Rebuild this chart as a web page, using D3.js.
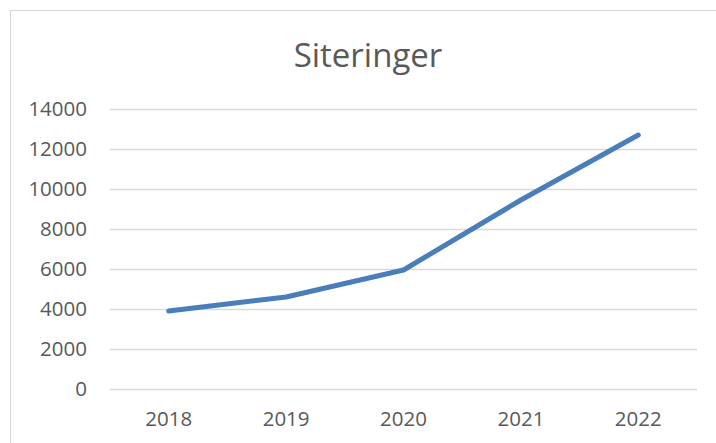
<!DOCTYPE html>
<html>
<head>
<meta charset="utf-8">
<script src="https://cdn.jsdelivr.net/npm/d3@7"></script>
<style>
  body { margin: 0; background: #fff; }
  text { font-family: "Open Sans", "Liberation Sans", Arial, sans-serif; fill: #595959; }
</style>
</head>
<body>
<div class="chart"></div>
<script>
var years = ["2018", "2019", "2020", "2021", "2022"];
var citations = [3900, 4600, 5950, 9450, 12700];
var yTicks = [0, 2000, 4000, 6000, 8000, 10000, 12000, 14000];
var chartTitle = "Siteringer";

var svgWidth = 716;
var svgHeight = 443;

var margin = { top: 109, right: 19, bottom: 54, left: 110 };
var width = svgWidth - margin.left - margin.right;
var height = svgHeight - margin.top - margin.bottom;

var svg = d3.select(".chart")
  .append("svg")
  .attr("width", svgWidth)
  .attr("height", svgHeight);

// chart frame
svg.append("rect")
  .attr("x", 10.5)
  .attr("y", 10.5)
  .attr("width", svgWidth + 20)
  .attr("height", svgHeight + 20)
  .attr("fill", "none")
  .attr("stroke", "#d9d9d9");

svg.append("text")
  .attr("x", 368)
  .attr("y", 67)
  .attr("text-anchor", "middle")
  .attr("font-size", "33px")
  .text(chartTitle);

var chartGroup = svg.append("g")
  .attr("transform", `translate(${margin.left}, ${margin.top})`);

var xScale = d3.scaleBand()
  .domain(years)
  .range([0, width]);

var yScale = d3.scaleLinear()
  .domain([0, 14000])
  .range([height, 0]);

// gridlines
chartGroup.append("g")
  .selectAll("line")
  .data(yTicks)
  .enter()
  .append("line")
  .attr("x1", 0)
  .attr("x2", width)
  .attr("y1", d => Math.round(yScale(d)) + 0.5)
  .attr("y2", d => Math.round(yScale(d)) + 0.5)
  .attr("stroke", "#d9d9d9")
  .attr("stroke-width", 1.3);

var leftAxis = d3.axisLeft(yScale)
  .tickValues(yTicks)
  .tickFormat(d3.format("d"))
  .tickSize(0)
  .tickPadding(23);
var bottomAxis = d3.axisBottom(xScale).tickSize(0).tickPadding(22);

var yAxisG = chartGroup.append("g").call(leftAxis);
yAxisG.select(".domain").remove();
yAxisG.selectAll("text")
  .attr("font-size", "20.5px")
  .attr("font-family", "Open Sans, Liberation Sans, Arial, sans-serif")
  .attr("fill", "#595959");

var xAxisG = chartGroup.append("g")
  .attr("transform", `translate(0, ${height})`)
  .call(bottomAxis);
xAxisG.select(".domain").remove();
xAxisG.selectAll("text")
  .attr("font-size", "20.5px")
  .attr("font-family", "Open Sans, Liberation Sans, Arial, sans-serif")
  .attr("fill", "#595959");

var line = d3.line()
  .x((d, i) => xScale(years[i]) + xScale.bandwidth() / 2)
  .y(d => yScale(d));

chartGroup.append("path")
  .datum(citations)
  .attr("d", line)
  .attr("fill", "none")
  .attr("stroke", "#4a7ebb")
  .attr("stroke-width", 5)
  .attr("stroke-linecap", "round")
  .attr("stroke-linejoin", "round");
</script>
</body>
</html>
